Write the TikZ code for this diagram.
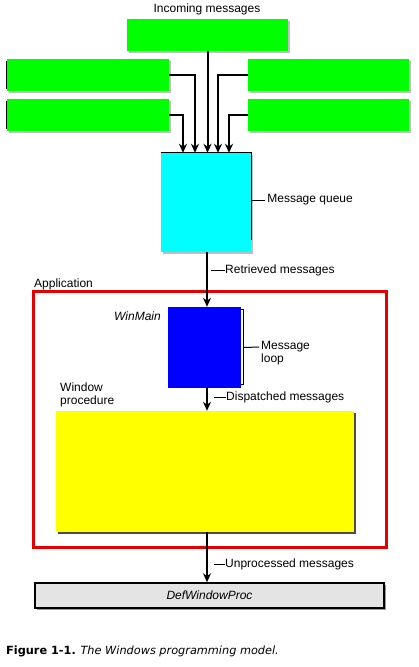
\documentclass[tikz,border=0pt]{standalone}
\usepackage{fontspec}
\setmainfont{Liberation Sans}
\newfontfamily\capfont{DejaVu Sans}
\usetikzlibrary{shadows,arrows.meta,calc}
\definecolor{wmgreen}{HTML}{00FF00}
\definecolor{wmcyan}{HTML}{00FFFF}
\definecolor{wmblue}{HTML}{0000FF}
\definecolor{wmyellow}{HTML}{FFFF00}
\definecolor{wmred}{HTML}{E60000}
\definecolor{wmgray}{HTML}{E4E4E4}

\begin{document}
\begin{tikzpicture}[x=1pt, y=-1pt,
  srcbox/.style={fill=wmgreen, minimum height=32pt, inner sep=0pt, drop shadow={shadow xshift=1.5pt, shadow yshift=-1.5pt, fill=black!25, opacity=1}},
  lbl/.style={font=\fontsize{12}{13}\selectfont, inner sep=0pt},
  flow/.style={line width=2pt, -{Stealth[length=9pt, width=8pt]}},
  tick/.style={line width=1pt}]
  \useasboundingbox (0,0) rectangle (418,667);
  \coordinate (trunk) at (207,0);
  \node[lbl] (inlbl) at (207,9) {Incoming messages};
  \node[srcbox, minimum width=161pt] (src) at (207.5,35) {};
  \node[srcbox, minimum width=162pt] (lt1) at (88,75) {};
  \node[srcbox, minimum width=162pt] (lt2) at (88,115) {};
  \node[srcbox, minimum width=161pt] (rt1) at (328.5,75) {};
  \node[srcbox, minimum width=161pt] (rt2) at (328.5,115) {};
  \foreach \b in {lt1,lt2} \draw[line width=1pt] ([yshift=-2pt]\b.north west) -- ([yshift=2pt]\b.south west);
  \node[fill=wmcyan, minimum width=90pt, minimum height=99pt, inner sep=0pt, drop shadow={shadow xshift=2pt, shadow yshift=-1.5pt, fill=black!25, opacity=1}] (queue) at (206,202.5) {};
  \draw[line width=0.8pt] (queue.north west) -- (queue.north east) -- ([yshift=12pt]queue.south east);
  \draw[flow] (src.south) -- (src.south |- queue.north);
  \draw[flow] (lt1.east) -| ($(trunk |- queue.north)+(-12,0)$);
  \draw[flow] (lt2.east) -| ($(trunk |- queue.north)+(-24,0)$);
  \draw[flow] (rt1.west) -| ($(trunk |- queue.north)+(11,0)$);
  \draw[flow] (rt2.west) -| ($(trunk |- queue.north)+(22,0)$);
  \node[lbl, anchor=west] (qlbl) at ([xshift=16pt, yshift=2.5pt]queue.east) {Message queue};
  \draw[tick] (qlbl.west -| queue.east) -- ([xshift=-2pt]qlbl.west);
  \node[draw=wmred, line width=3pt, minimum width=353pt, minimum height=256pt, inner sep=0pt] (app) at (209.5,419) {};
  \node[lbl, anchor=base west] (applbl) at (34,287) {Application};
  \node[fill=wmblue, minimum width=73pt, minimum height=81pt, inner sep=0pt] (winmain) at (204.5,347.5) {};
  \draw[tick] ([yshift=-3pt]winmain.north east) -- ++(2,0) -- ++(0,75) -- ++(-2,0);
  \node[lbl, anchor=east, font=\fontsize{12}{13}\selectfont\itshape] (wmlbl) at (161,316) {WinMain};
  \node[lbl, anchor=west, align=left] (mlbl) at (261,353) {Message\\loop};
  \draw[tick] ([xshift=2pt]winmain.east) -- ([xshift=-2pt, yshift=6pt]mlbl.west);
  \node[fill=wmyellow, minimum width=298pt, minimum height=121pt, inner sep=0pt, drop shadow={shadow xshift=2pt, shadow yshift=-2pt, fill=black!70, opacity=1}] (wproc) at (205,471.5) {};
  \node[lbl, anchor=south west, align=left] (wplbl) at (60,407) {Window\\procedure};
  \node[draw=black, line width=1.5pt, fill=wmgray, minimum width=349pt, minimum height=25pt, inner sep=0pt, drop shadow={shadow xshift=2pt, shadow yshift=-2pt, fill=black!40, opacity=1}, font=\fontsize{12}{13}\selectfont\itshape] (defproc) at (209.5,595.5) {DefWindowProc};
  \draw[flow] (trunk |- queue.south) -- (trunk |- winmain.north);
  \draw[flow] (trunk |- winmain.south) -- (trunk |- wproc.north);
  \draw[flow] (trunk |- wproc.south) -- (trunk |- defproc.north);
  \node[lbl, anchor=west] (rlbl) at (225,270) {Retrieved messages};
  \draw[tick] (rlbl.west) -- ++(-14,0);
  \node[lbl, anchor=west] (dlbl) at (226,397) {Dispatched messages};
  \draw[tick] (dlbl.west) -- ++(-12,0);
  \node[lbl, anchor=west] (ulbl) at (225,564) {Unprocessed messages};
  \draw[tick] (ulbl.west) -- ++(-11,0);
  \node[anchor=base west, inner sep=0pt, font=\capfont\fontsize{11.3}{13}\selectfont] (caption) at (6,654) {\textbf{Figure 1-1.} \textit{The Windows programming model.}};
\end{tikzpicture}
\end{document}
